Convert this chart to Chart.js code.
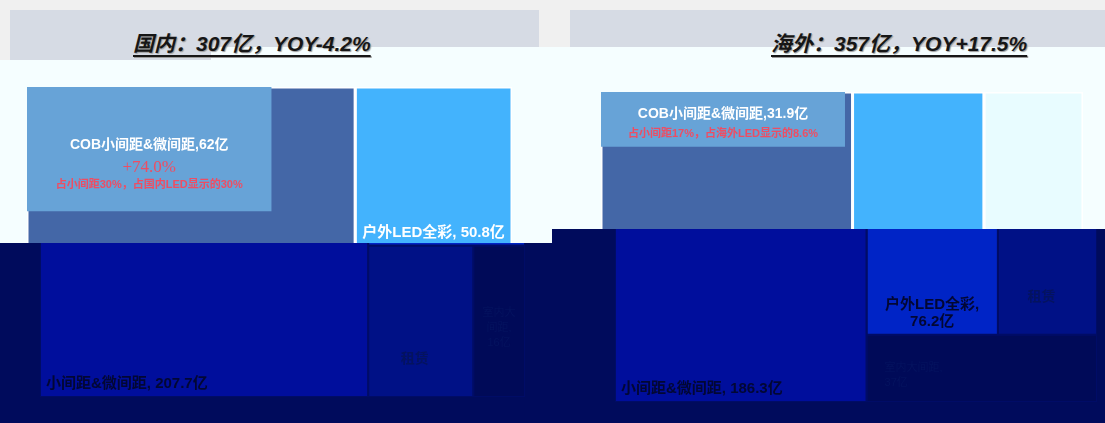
<!DOCTYPE html>
<html>
<head>
<meta charset="utf-8">
<script src="https://cdn.jsdelivr.net/npm/chart.js@4.4.1/dist/chart.umd.min.js"></script>
<style>
  html, body { margin: 0; padding: 0; }
  body { width: 1105px; height: 423px; position: relative; overflow: hidden; background: #f0f0f0;
         font-family: "Liberation Sans", "Noto Sans CJK SC", sans-serif; }
  .abs { position: absolute; }
  .hdr { background: #d6dbe4; }
  .pale { background: #f5feff; }
  .dark { background: #000b5c; overflow: hidden; }
  .clip { overflow: hidden; }
  .title { font-size: 21px; line-height: 26px; font-weight: bold; font-style: italic; color: #161616;
           white-space: nowrap; text-decoration: underline; text-decoration-thickness: 1.5px;
           text-underline-offset: 4px; text-shadow: 1px 1px 1px #9a9a9a; z-index: 5; }
</style>
</head>
<body>
<div class="abs hdr" style="left:10px;top:10px;width:529px;height:50px"></div>
<div class="abs hdr" style="left:570px;top:10px;width:535px;height:37px"></div>
<div class="abs pale" style="left:0;top:60px;width:552px;height:183px"></div>
<div class="abs pale" style="left:211px;top:47px;width:341px;height:13px"></div>
<div class="abs pale" style="left:552px;top:47px;width:553px;height:182px"></div>

<div class="abs clip" style="left:27px;top:87px;width:485px;height:156px"><canvas id="topL" width="485" height="310"></canvas></div>
<div class="abs clip" style="left:601px;top:92px;width:482px;height:137px"><canvas id="topR" width="482" height="310"></canvas></div>

<div class="abs dark" style="left:0;top:243px;width:552px;height:180px">
  <div class="abs" style="left:40px;top:-156px"><canvas id="lowL" width="485" height="310"></canvas></div>
</div>
<div class="abs dark" style="left:552px;top:229px;width:553px;height:194px">
  <div class="abs" style="left:63px;top:-137px"><canvas id="lowR" width="482" height="310"></canvas></div>
</div>

<div class="abs title" id="titleL" style="left:133px;top:31px"></div>
<div class="abs title" id="titleR" style="left:771px;top:31px"></div>

<script>
// ---- data ----
const segmentNames = ['小间距&微间距', '户外LED全彩', '租赁', '室内大间距'];
const domesticValues = [207.7, 50.8, 32.5, 16.0];
const overseasValues = [186.3, 76.2, 57.5, 37.0];
const cobValues = [62, 31.9];
const cobLabels = ['COB小间距&微间距,62亿', 'COB小间距&微间距,31.9亿'];
const cobGrowth = ['+74.0%', ''];
const cobShares = ['占小间距30%，占国内LED显示的30%', '占小间距17%，占海外LED显示的8.6%'];
const panelTitles = ['国内：307亿，YOY-4.2%', '海外：357亿，YOY+17.5%'];

document.getElementById('titleL').textContent = panelTitles[0];
document.getElementById('titleR').textContent = panelTitles[1];

// layout space of the treemap (axis ranges)
const W = 147, H = 100;
const RATIO = 0.5 * (1 + Math.sqrt(5));

// squarified treemap, echarts flavour
function squarify(values) {
  const total = values.reduce((a, b) => a + b, 0);
  const items = values.map((v, i) => ({ i, area: v / total * W * H })).sort((a, b) => b.area - a.area);
  const rect = { x: 0, y: 0, w: W, h: H };
  const out = [];
  const worst = (row, area, len) => {
    let mx = 0, mn = Infinity;
    row.forEach(r => { mx = Math.max(mx, r.area); mn = Math.min(mn, r.area); });
    const sq = area * area, f = len * len * RATIO;
    return Math.max(f * mx / sq, sq / (f * mn));
  };
  const place = (row, area, len, flush) => {
    const horiz = len === rect.w;
    let other = area / len;
    const avail = horiz ? rect.h : rect.w;
    if (flush || other > avail) other = avail;
    let pos = horiz ? rect.x : rect.y;
    const end = horiz ? rect.x + rect.w : rect.y + rect.h;
    row.forEach((r, k) => {
      let step = r.area / other;
      if (k === row.length - 1 || end - pos < step) step = end - pos;
      out[r.i] = horiz
        ? { x0: pos, x1: pos + step, y0: rect.y, y1: rect.y + other }
        : { x0: rect.x, x1: rect.x + other, y0: pos, y1: pos + step };
      pos += step;
    });
    if (horiz) { rect.y += other; rect.h -= other; } else { rect.x += other; rect.w -= other; }
  };
  let row = [], rowArea = 0, best = Infinity, fixed = Math.min(rect.w, rect.h);
  for (let k = 0; k < items.length;) {
    row.push(items[k]); rowArea += items[k].area;
    const s = worst(row, rowArea, fixed);
    if (s <= best) { k++; best = s; }
    else {
      rowArea -= row.pop().area;
      place(row, rowArea, fixed, false);
      fixed = Math.min(rect.w, rect.h);
      row = []; rowArea = 0; best = Infinity;
    }
  }
  if (row.length) place(row, rowArea, fixed, true);
  return out;
}

// COB box sits in the top-left corner of its parent cell, sized by value
function nestedBox(parent, parentValue, value, widthShare) {
  const pw = parent.x1 - parent.x0, ph = parent.y1 - parent.y0;
  const w = pw * widthShare;
  const h = (value / parentValue) * pw * ph / w;
  return { x0: parent.x0, x1: parent.x0 + w, y0: parent.y0, y1: parent.y0 + h };
}

function rectPoints(r) {
  return [{ x: r.x0, y: r.y0 }, { x: r.x1, y: r.y0 }, { x: r.x1, y: r.y1 }, { x: r.x0, y: r.y1 }, { x: r.x0, y: r.y0 }];
}

const lightPalette = {
  cells: ['#4467a7', '#43b3fd', '#e8fcff', '#cfe8f6'], cob: '#67a3d7',
  gap: '#ffffff', gapWidth: 3, text: '#ffffff', minor: '#6a7a8a', red: '#ee4d63'
};
const darkPalette = {
  cells: ['#000e9c', '#0024c6', '#001186', '#000a58'], cob: '#000e9c',
  gap: '#000c66', gapWidth: 2, text: '#020733', minor: '#04135f', red: '#020733'
};

function tokens(text) { return text.match(/[A-Za-z0-9.%+\-&]+|\s+|./g) || []; }

function wrapLines(ctx, text, maxW) {
  const out = [];
  text.split('\n').forEach(part => {
    let line = '';
    tokens(part).forEach(t => {
      if (line && ctx.measureText(line + t).width > maxW) {
        out.push(line.trim());
        line = t.trim() ? t : '';
      } else line += t;
    });
    if (line.trim()) out.push(line.trim());
  });
  return out;
}

const FONT = '"Liberation Sans", "Noto Sans CJK SC", sans-serif';
const cellStyles = [
  { font: 'bold 15px ' + FONT, align: 'bl', lh: 18 },
  { font: 'bold 15px ' + FONT, align: 'bc', lh: 17 },
  { font: 'bold 14px ' + FONT, align: 'lowc', lh: 17 },
  { font: '11px ' + FONT, align: 'ml', lh: 15 }
];

function cellText(i, values) {
  if (i === 0 || i === 1) return segmentNames[i] + ', ' + values[i] + '亿';
  if (i === 2) return segmentNames[i];
  return segmentNames[i] + ',\n' + values[i] + '亿';
}

function makeChart(id, values, p, widthShare, pal) {
  const cells = squarify(values);
  const cob = nestedBox(cells[0], values[0], cobValues[p], widthShare);
  const datasets = cells.map((r, i) => ({
    data: rectPoints(r), fill: 'shape', backgroundColor: pal.cells[i],
    borderColor: pal.gap, borderWidth: pal.gapWidth, pointRadius: 0, tension: 0, order: 2
  }));
  datasets.push({
    data: rectPoints(cob), fill: 'shape', backgroundColor: pal.cob,
    borderWidth: 0, borderColor: pal.cob, pointRadius: 0, tension: 0, order: 0
  });

  const labels = {
    id: 'cellLabels',
    afterDatasetsDraw(chart) {
      const { ctx, scales: { x, y } } = chart;
      const px = r => ({
        l: x.getPixelForValue(r.x0), r: x.getPixelForValue(r.x1),
        t: y.getPixelForValue(r.y0), b: y.getPixelForValue(r.y1)
      });
      ctx.save();
      ctx.textBaseline = 'middle';
      ctx.textAlign = 'left';
      cells.forEach((r, i) => {
        const b = px(r), st = cellStyles[i];
        ctx.font = st.font;
        ctx.fillStyle = i < 2 ? pal.text : pal.minor;
        const lines = wrapLines(ctx, cellText(i, values), b.r - b.l - 10);
        const n = lines.length;
        lines.forEach((ln, k) => {
          const w = ctx.measureText(ln).width;
          let tx, ty;
          if (st.align === 'bl') { tx = b.l + 6; ty = b.b - 13 - (n - 1 - k) * st.lh; }
          else if (st.align === 'bc') { tx = (b.l + b.r) / 2 - w / 2; ty = b.b - 13 - (n - 1 - k) * st.lh; }
          else if (st.align === 'lowc') { tx = (b.l + b.r) / 2 - w / 2 - 6; ty = b.b - 38 - (n - 1 - k) * st.lh; }
          else {
            const pad = Math.min(18, Math.max(2, (b.r - b.l - w) / 2));
            tx = b.l + pad; ty = (b.t + b.b) / 2 + 7 + (k - (n - 1) / 2) * st.lh;
          }
          ctx.fillText(ln, tx, ty);
        });
      });
      // COB box texts
      const c = px(cob);
      const cx = (c.l + c.r) / 2;
      ctx.textAlign = 'center';
      let ty = c.t + (c.b - c.t) * 0.47;
      if (p === 1) ty = c.t + (c.b - c.t) * 0.4;
      ctx.fillStyle = pal.text;
      ctx.font = 'bold 14px ' + FONT;
      ctx.fillText(cobLabels[p], cx, ty);
      ctx.fillStyle = pal.red;
      if (cobGrowth[p]) {
        ty += 22;
        ctx.font = '17px "Liberation Serif", serif';
        ctx.fillText(cobGrowth[p], cx, ty);
        ty += 18;
      } else ty += 20;
      ctx.font = 'bold 11px ' + FONT;
      ctx.fillText(cobShares[p], cx, ty);
      ctx.restore();
    }
  };

  return new Chart(document.getElementById(id), {
    type: 'line',
    data: { datasets },
    options: {
      responsive: false,
      animation: false,
      events: [],
      layout: { padding: 0 },
      plugins: { legend: { display: false }, tooltip: { enabled: false } },
      scales: {
        x: { type: 'linear', min: 0, max: W, display: false },
        y: { type: 'linear', min: 0, max: H, reverse: true, display: false }
      }
    },
    plugins: [labels]
  });
}

makeChart('topL', domesticValues, 0, 0.745, lightPalette);
makeChart('lowL', domesticValues, 0, 0.745, darkPalette);
makeChart('topR', overseasValues, 1, 0.97, lightPalette);
makeChart('lowR', overseasValues, 1, 0.97, darkPalette);
</script>
</body>
</html>
